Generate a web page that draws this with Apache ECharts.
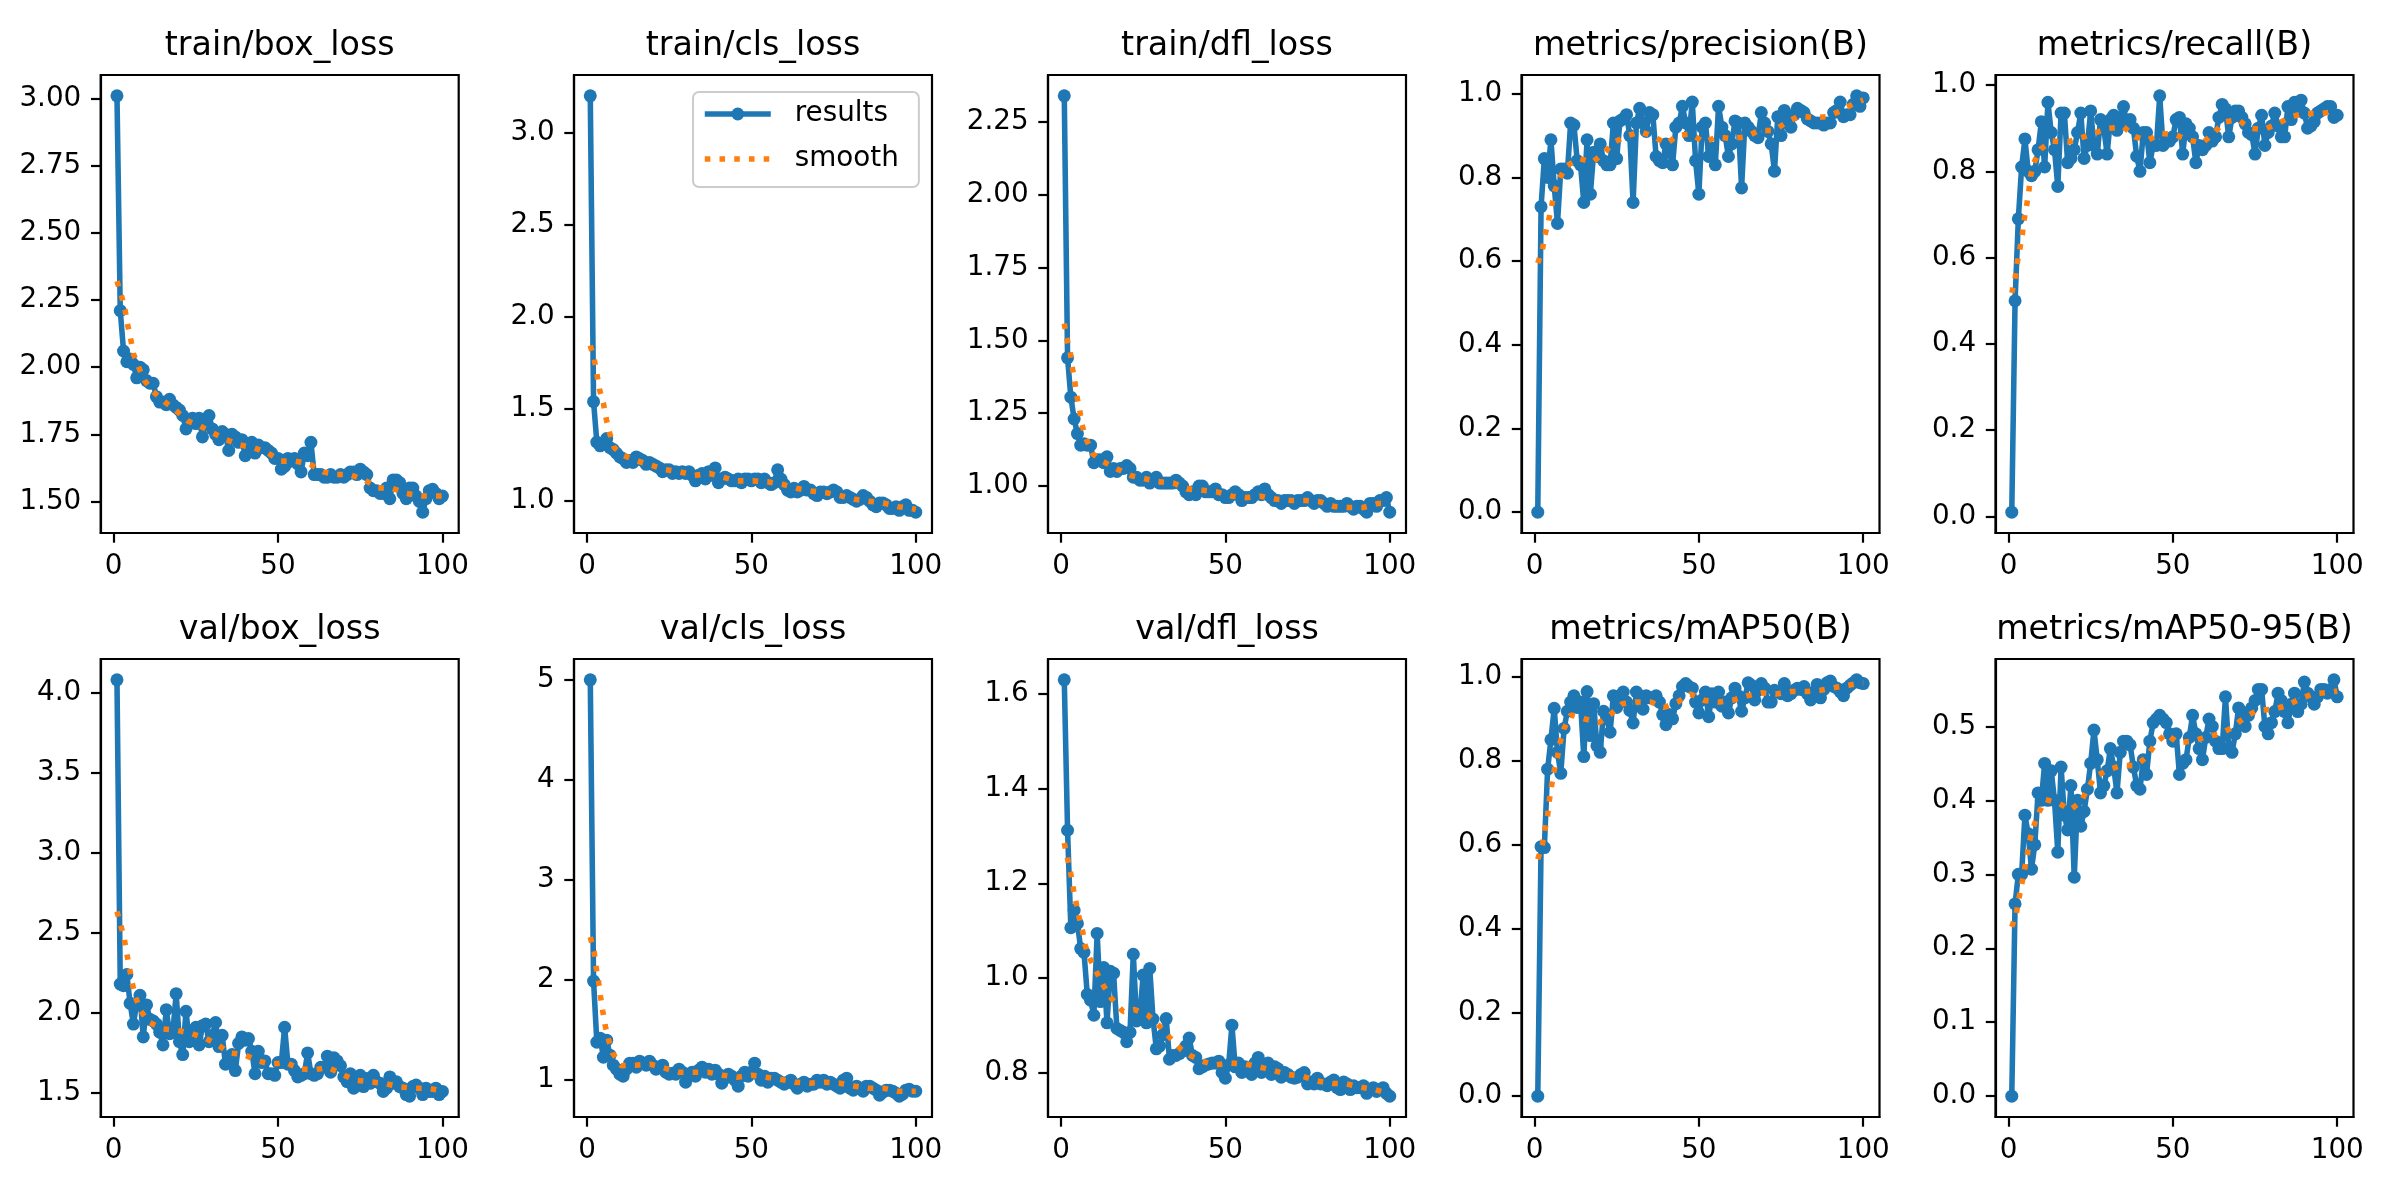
<!DOCTYPE html>
<html>
<head>
<meta charset="utf-8">
<script src="https://cdn.jsdelivr.net/npm/echarts@6/dist/echarts.min.js"></script>
<style>html,body{margin:0;padding:0;background:#fff;}#c{width:2400px;height:1200px;}</style>
</head>
<body>
<div id="c"></div>
<script>
// ---------------- DATA ----------------
const epochs = [1,2,3,4,5,6,7,8,9,10,11,12,13,14,15,16,17,18,19,20,21,22,23,24,25,26,27,28,29,30,31,32,33,34,35,36,37,38,39,40,41,42,43,44,45,46,47,48,49,50,51,52,53,54,55,56,57,58,59,60,61,62,63,64,65,66,67,68,69,70,71,72,73,74,75,76,77,78,79,80,81,82,83,84,85,86,87,88,89,90,91,92,93,94,95,96,97,98,99,100];
const xTicks = [0, 50, 100];

const titles = ['train/box_loss','train/cls_loss','train/dfl_loss','metrics/precision(B)','metrics/recall(B)',
                'val/box_loss','val/cls_loss','val/dfl_loss','metrics/mAP50(B)','metrics/mAP50-95(B)'];

const trainBoxLoss = [3.01,2.21,2.06,2.02,2.03,2.01,1.96,2.00,1.99,1.95,
1.94,1.94,1.89,1.87,1.87,1.86,1.88,1.86,1.85,1.84,
1.82,1.77,1.80,1.81,1.79,1.81,1.74,1.80,1.82,1.77,
1.75,1.73,1.76,1.75,1.69,1.75,1.74,1.72,1.73,1.67,
1.71,1.72,1.68,1.71,1.70,1.70,1.69,1.68,1.66,1.66,
1.62,1.63,1.66,1.65,1.66,1.64,1.61,1.68,1.67,1.72,
1.60,1.60,1.60,1.59,1.59,1.60,1.59,1.59,1.60,1.59,
1.60,1.61,1.61,1.60,1.62,1.61,1.60,1.55,1.54,1.54,
1.53,1.53,1.55,1.51,1.58,1.58,1.57,1.53,1.51,1.55,
1.55,1.52,1.50,1.46,1.51,1.54,1.545,1.53,1.51,1.52];
const trainBoxSmoothX = [1,2.5,3.5,4.2,5.1,6,7.6,9.4,11.9,15.6,18.8,22.5,26.4,30.2,34.2,38.5,42.6,46.9,50.9,55.2,59.6,63.7,67.7,71.8,76.3,80.4,84.5,89,93.6,97.7,100];
const trainBoxSmoothY = [2.32,2.26,2.21,2.16,2.11,2.05,2.00,1.95,1.91,1.87,1.84,1.80,1.78,1.755,1.73,1.71,1.70,1.68,1.65,1.65,1.64,1.61,1.60,1.60,1.58,1.55,1.55,1.53,1.52,1.52,1.52];
const trainBoxTicks = [1.50,1.75,2.00,2.25,2.50,2.75,3.00];

const trainClsLoss = [3.20,1.54,1.32,1.30,1.31,1.34,1.29,1.28,1.26,1.24,
1.23,1.21,1.22,1.21,1.24,1.23,1.22,1.20,1.21,1.20,
1.19,1.18,1.16,1.17,1.17,1.15,1.16,1.15,1.16,1.15,
1.16,1.14,1.11,1.14,1.15,1.12,1.16,1.14,1.18,1.10,
1.12,1.13,1.12,1.11,1.11,1.12,1.10,1.12,1.12,1.11,
1.12,1.12,1.10,1.12,1.10,1.09,1.10,1.17,1.12,1.09,
1.06,1.05,1.07,1.05,1.06,1.08,1.06,1.06,1.04,1.03,
1.05,1.05,1.04,1.05,1.06,1.05,1.02,1.02,1.03,1.02,
1.01,1.00,1.01,1.03,1.02,1.00,0.98,0.97,0.99,0.99,
0.98,0.96,0.96,0.97,0.95,0.97,0.98,0.95,0.95,0.94];
const trainClsSmoothX = [1,2.2,3,3.9,5,5.8,6.8,8.3,10.9,14.9,19.5,24,28,32.7,37.3,41.4,45.4,50.5,55,59.7,63.7,68.3,72.9,77,81.5,85.6,90.1,94.7,98.8,100];
const trainClsSmoothY = [1.845,1.77,1.69,1.60,1.53,1.45,1.375,1.29,1.25,1.22,1.195,1.17,1.16,1.14,1.15,1.13,1.11,1.11,1.105,1.09,1.07,1.055,1.045,1.03,1.01,1.00,0.99,0.97,0.96,0.955];
const trainClsTicks = [1.0,1.5,2.0,2.5,3.0];

const trainDflLoss = [2.34,1.44,1.305,1.23,1.18,1.14,1.145,1.14,1.14,1.08,
1.09,1.09,1.08,1.10,1.05,1.06,1.05,1.06,1.06,1.07,
1.06,1.03,1.03,1.02,1.02,1.03,1.01,1.02,1.03,1.01,
1.01,1.01,1.01,1.01,1.02,1.01,1.00,0.98,0.97,0.98,
0.97,1.00,1.00,0.98,0.98,0.98,0.99,0.97,0.97,0.96,
0.96,0.97,0.98,0.97,0.95,0.96,0.96,0.96,0.97,0.98,
0.97,0.99,0.97,0.96,0.95,0.95,0.94,0.95,0.95,0.95,
0.94,0.95,0.95,0.95,0.96,0.95,0.94,0.95,0.95,0.94,
0.93,0.94,0.93,0.93,0.93,0.93,0.94,0.93,0.92,0.93,
0.93,0.92,0.91,0.94,0.94,0.93,0.95,0.95,0.96,0.91];
const trainDflSmoothX = [1,1.7,2.8,3.4,4.2,4.8,5.7,6.4,7.7,9.7,12.6,16.8,21.4,25.5,29.6,34.2,38.3,43.2,47.4,52,56.4,60.7,65.3,69.9,74.5,78.6,83,87.4,91.8,96.4,100];
const trainDflSmoothY = [1.558,1.51,1.46,1.41,1.36,1.31,1.26,1.21,1.16,1.11,1.085,1.06,1.035,1.025,1.015,1.01,0.99,0.985,0.98,0.965,0.96,0.965,0.955,0.95,0.95,0.946,0.93,0.926,0.926,0.94,0.94];
const trainDflTicks = [1.00,1.25,1.50,1.75,2.00,2.25];

const precision = [0.0,0.73,0.845,0.80,0.89,0.78,0.69,0.82,0.82,0.81,
0.93,0.925,0.84,0.83,0.74,0.89,0.76,0.86,0.85,0.88,
0.84,0.83,0.83,0.93,0.845,0.935,0.94,0.95,0.90,0.74,
0.93,0.965,0.93,0.91,0.955,0.95,0.85,0.84,0.835,0.88,
0.86,0.83,0.92,0.93,0.97,0.93,0.90,0.98,0.84,0.76,
0.92,0.93,0.85,0.87,0.83,0.97,0.92,0.90,0.85,0.88,
0.935,0.93,0.775,0.93,0.92,0.91,0.90,0.895,0.955,0.93,
0.91,0.88,0.815,0.945,0.90,0.96,0.93,0.92,0.95,0.965,
0.96,0.955,0.94,0.935,0.93,0.93,0.93,0.925,0.93,0.93,
0.955,0.96,0.98,0.945,0.95,0.95,0.975,0.995,0.97,0.99];
const precisionSmoothX = [1,2.4,3.2,4.3,5.2,6.2,7.8,9.7,13.6,17.6,21.2,24.2,28.3,32.3,36.4,40.1,43.5,47.5,51.6,55.6,59.7,64.2,68.3,72.8,76.4,80.4,85,89,93.1,97.2,100];
const precisionSmoothY = [0.595,0.627,0.663,0.697,0.731,0.768,0.80,0.827,0.845,0.836,0.859,0.884,0.90,0.909,0.897,0.88,0.90,0.904,0.884,0.897,0.893,0.897,0.912,0.912,0.93,0.947,0.943,0.945,0.959,0.977,0.985];
const unitTicks = [0.0,0.2,0.4,0.6,0.8,1.0];

const recall = [0.01,0.50,0.69,0.81,0.875,0.80,0.79,0.80,0.85,0.915,
0.81,0.96,0.89,0.85,0.765,0.935,0.935,0.82,0.83,0.85,
0.89,0.935,0.83,0.86,0.94,0.86,0.84,0.92,0.90,0.84,
0.92,0.93,0.895,0.925,0.95,0.91,0.92,0.90,0.835,0.80,
0.89,0.89,0.82,0.86,0.86,0.975,0.86,0.87,0.87,0.88,
0.92,0.925,0.84,0.91,0.90,0.88,0.82,0.86,0.85,0.86,
0.89,0.87,0.88,0.925,0.955,0.945,0.88,0.925,0.94,0.94,
0.925,0.91,0.89,0.885,0.84,0.90,0.93,0.86,0.89,0.905,
0.935,0.905,0.88,0.88,0.95,0.92,0.96,0.94,0.965,0.935,
0.90,0.905,0.915,0.935,0.94,0.945,0.95,0.95,0.925,0.93];
const recallSmoothX = [1,2,2.6,3.4,4.2,4.7,5.5,6.2,6.7,7.7,9.8,13.3,18.1,22.2,26.6,30.6,35,38.5,42.3,46.4,50.7,54.8,59.1,62.5,65.5,69.8,73.3,77.7,81.8,86.1,90.1,94.7,99.1,100];
const recallSmoothY = [0.518,0.551,0.585,0.618,0.653,0.686,0.72,0.755,0.788,0.82,0.852,0.87,0.868,0.878,0.89,0.90,0.903,0.88,0.872,0.888,0.885,0.872,0.866,0.889,0.914,0.92,0.90,0.897,0.91,0.927,0.934,0.934,0.938,0.938];

const valBoxLoss = [4.08,2.18,2.17,2.24,2.06,1.93,2.06,2.11,1.85,2.05,
1.96,1.95,1.93,1.88,1.80,2.02,1.87,1.88,2.12,1.82,
1.74,2.01,1.82,1.87,1.91,1.80,1.92,1.93,1.82,1.86,
1.94,1.79,1.86,1.68,1.69,1.74,1.64,1.81,1.85,1.83,
1.84,1.76,1.62,1.76,1.69,1.70,1.62,1.62,1.61,1.69,
1.69,1.91,1.68,1.68,1.64,1.60,1.61,1.62,1.75,1.62,
1.61,1.62,1.66,1.66,1.73,1.63,1.72,1.70,1.67,1.60,
1.57,1.62,1.53,1.56,1.61,1.54,1.59,1.56,1.61,1.57,
1.56,1.51,1.53,1.60,1.56,1.57,1.54,1.53,1.49,1.48,
1.54,1.55,1.53,1.49,1.53,1.51,1.51,1.53,1.49,1.51];
const valBoxSmoothX = [1,2.2,3.2,4,4.8,5.6,6.6,8.3,10.9,14.9,19.5,23.9,28.1,31.7,35.2,39.6,43.9,47.9,52.5,56.5,61.1,65.2,69.2,73.3,77.9,82.4,86.5,91.1,95.6,99.4,100];
const valBoxSmoothY = [2.634,2.546,2.463,2.37,2.28,2.19,2.10,2.01,1.94,1.90,1.89,1.87,1.84,1.80,1.75,1.74,1.70,1.68,1.69,1.65,1.645,1.66,1.62,1.58,1.57,1.56,1.54,1.53,1.53,1.515,1.515];
const valBoxTicks = [1.5,2.0,2.5,3.0,3.5,4.0];

const valClsLoss = [5.0,1.99,1.38,1.42,1.23,1.40,1.25,1.15,1.11,1.06,
1.04,1.11,1.17,1.17,1.13,1.19,1.17,1.15,1.19,1.15,
1.11,1.13,1.15,1.08,1.06,1.07,1.06,1.11,1.08,0.98,
1.06,1.08,1.04,1.10,1.13,1.08,1.11,1.06,1.10,1.06,
0.97,1.02,1.06,1.04,1.00,0.94,1.04,1.08,1.04,1.08,
1.17,1.06,1.00,1.04,0.98,1.02,1.02,1.00,0.98,0.96,
0.98,1.00,0.96,0.92,0.96,0.98,0.94,0.96,0.96,1.00,
0.98,1.00,0.96,0.98,0.96,0.94,0.92,1.00,1.02,0.92,
0.90,0.94,0.92,0.89,0.94,0.94,0.92,0.90,0.85,0.88,
0.90,0.90,0.89,0.87,0.84,0.86,0.90,0.91,0.89,0.89];
const valClsSmoothX = [1,2.2,2.7,3.5,4.1,4.8,5.5,6.6,7.8,10.4,14.9,19.2,23.6,27.8,32.5,36.8,41.4,45.7,50,54.4,58.6,63.2,67.8,72.4,76.9,81.5,85.6,90.1,94.7,98.8,100];
const valClsSmoothY = [2.43,2.28,2.14,1.99,1.84,1.69,1.55,1.40,1.27,1.145,1.15,1.16,1.12,1.08,1.08,1.08,1.05,1.03,1.05,1.03,1.01,0.98,0.97,0.98,0.97,0.94,0.92,0.92,0.89,0.89,0.89];
const valClsTicks = [1,2,3,4,5];

const valDflLoss = [1.63,1.312,1.106,1.143,1.115,1.062,1.054,0.965,0.953,0.921,
1.094,0.95,1.022,0.905,1.014,1.01,0.893,0.889,0.885,0.865,
0.885,1.05,0.909,0.921,1.006,0.905,1.02,0.913,0.85,0.856,
0.88,0.914,0.828,0.836,0.836,0.84,0.845,0.856,0.873,0.836,
0.832,0.808,0.812,0.816,0.818,0.82,0.82,0.824,0.80,0.788,
0.816,0.90,0.812,0.82,0.80,0.812,0.808,0.796,0.82,0.832,
0.80,0.812,0.82,0.796,0.812,0.808,0.79,0.80,0.796,0.79,
0.788,0.79,0.796,0.80,0.776,0.78,0.776,0.788,0.776,0.776,
0.772,0.78,0.784,0.768,0.764,0.78,0.776,0.764,0.772,0.768,
0.768,0.772,0.756,0.764,0.768,0.76,0.764,0.768,0.756,0.75];
const valDflSmoothX = [1,2,3,3.8,4.6,5.4,6.6,7.3,8.7,10.7,12.8,15.3,18.9,22.4,26.5,30.1,33.2,36.7,39.3,42.9,46.9,51.5,56.1,60.2,64.8,68.9,73.5,78.1,82.7,86.7,91.3,95.4,99.5,100];
const valDflSmoothY = [1.285,1.252,1.219,1.187,1.159,1.131,1.098,1.07,1.042,1.014,0.985,0.957,0.929,0.933,0.921,0.897,0.873,0.848,0.836,0.824,0.816,0.82,0.818,0.812,0.804,0.796,0.792,0.782,0.777,0.776,0.769,0.764,0.756,0.755];
const valDflTicks = [0.8,1.0,1.2,1.4,1.6];

const mAP50 = [0.0,0.595,0.593,0.78,0.85,0.925,0.82,0.77,0.877,0.918,
0.94,0.955,0.927,0.94,0.81,0.965,0.86,0.936,0.836,0.82,
0.918,0.90,0.868,0.955,0.927,0.955,0.964,0.94,0.92,0.89,
0.964,0.955,0.923,0.955,0.95,0.95,0.955,0.94,0.91,0.886,
0.91,0.90,0.936,0.955,0.977,0.984,0.977,0.973,0.94,0.914,
0.945,0.964,0.905,0.96,0.94,0.964,0.93,0.94,0.914,0.95,
0.973,0.955,0.918,0.95,0.986,0.98,0.945,0.968,0.984,0.973,
0.94,0.94,0.968,0.964,0.96,0.984,0.955,0.96,0.968,0.973,
0.97,0.977,0.96,0.945,0.964,0.982,0.95,0.97,0.986,0.99,
0.977,0.973,0.965,0.955,0.973,0.98,0.986,0.993,0.986,0.984];
const mAP50SmoothX = [1,2.4,3.2,4,4.5,5.2,6,7,7.8,9,11,15.1,19.7,23.2,26.7,30.8,35.4,39.4,43.5,47.5,51.6,56.1,60.2,64.7,69.3,73.4,77.9,82.5,87,91.6,95.6,99.7,100];
const mAP50SmoothY = [0.565,0.60,0.636,0.67,0.705,0.741,0.777,0.809,0.844,0.877,0.909,0.90,0.891,0.911,0.936,0.94,0.94,0.927,0.94,0.959,0.944,0.94,0.944,0.955,0.962,0.959,0.965,0.965,0.968,0.975,0.98,0.986,0.986];

const mAP5095 = [0.0,0.26,0.30,0.30,0.38,0.355,0.307,0.34,0.41,0.40,
0.45,0.40,0.44,0.40,0.33,0.445,0.38,0.36,0.42,0.296,
0.40,0.365,0.385,0.415,0.45,0.495,0.455,0.41,0.42,0.44,
0.47,0.445,0.41,0.465,0.48,0.48,0.475,0.445,0.42,0.415,
0.455,0.435,0.48,0.505,0.51,0.515,0.51,0.505,0.49,0.48,
0.49,0.435,0.45,0.455,0.485,0.515,0.49,0.47,0.455,0.485,
0.51,0.50,0.48,0.47,0.47,0.54,0.47,0.465,0.49,0.525,
0.52,0.50,0.515,0.525,0.535,0.55,0.55,0.50,0.49,0.505,
0.52,0.545,0.535,0.52,0.505,0.53,0.545,0.52,0.53,0.56,
0.545,0.54,0.53,0.54,0.55,0.55,0.545,0.55,0.563,0.54];
const mAP5095SmoothX = [1,2.4,3.2,4,4.9,5.7,6.4,7.5,9.3,11.3,15.4,18.7,22,24,26.3,30.1,34.2,38.8,42.3,44.6,47.9,51.5,56.1,60.1,64.5,68.3,72,75.9,80.5,84.5,88.6,92.7,97.3,100];
const mAP5095SmoothY = [0.229,0.247,0.268,0.286,0.307,0.326,0.345,0.363,0.384,0.401,0.396,0.387,0.398,0.415,0.432,0.441,0.447,0.447,0.46,0.476,0.49,0.478,0.48,0.486,0.49,0.499,0.513,0.522,0.523,0.528,0.537,0.544,0.546,0.548];
const mAP5095Ticks = [0.0,0.1,0.2,0.3,0.4,0.5];

// ---------------- LAYOUT / STYLE ----------------
const panels = [
  {y: trainBoxLoss, sx: trainBoxSmoothX, sy: trainBoxSmoothY, ticks: trainBoxTicks, dec: 2},
  {y: trainClsLoss, sx: trainClsSmoothX, sy: trainClsSmoothY, ticks: trainClsTicks, dec: 1},
  {y: trainDflLoss, sx: trainDflSmoothX, sy: trainDflSmoothY, ticks: trainDflTicks, dec: 2},
  {y: precision, sx: precisionSmoothX, sy: precisionSmoothY, ticks: unitTicks, dec: 1},
  {y: recall, sx: recallSmoothX, sy: recallSmoothY, ticks: unitTicks, dec: 1},
  {y: valBoxLoss, sx: valBoxSmoothX, sy: valBoxSmoothY, ticks: valBoxTicks, dec: 1},
  {y: valClsLoss, sx: valClsSmoothX, sy: valClsSmoothY, ticks: valClsTicks, dec: 0},
  {y: valDflLoss, sx: valDflSmoothX, sy: valDflSmoothY, ticks: valDflTicks, dec: 1},
  {y: mAP50, sx: mAP50SmoothX, sy: mAP50SmoothY, ticks: unitTicks, dec: 1},
  {y: mAP5095, sx: mAP5095SmoothX, sy: mAP5095SmoothY, ticks: mAP5095Ticks, dec: 1}
];
const colLefts = [100.7, 574, 1048, 1521.5, 1995.5];
const rowTops = [75, 659];
const plotW = 358, plotH = 458;
const titleTops = [30, 614];
const FONT = 'DejaVu Sans';
const BLUE = '#1f77b4', ORANGE = '#ff7f0e';
const LW = 5.56;
const DOTS = [5.56, 9.17];

const grids = [], xAxes = [], yAxes = [], series = [], titleArr = [];
const xmin = epochs[0] - 0.05 * (epochs[epochs.length-1] - epochs[0]);
const xmax = epochs[epochs.length-1] + 0.05 * (epochs[epochs.length-1] - epochs[0]);

panels.forEach((p, i) => {
  const r = Math.floor(i / 5), c = i % 5;
  const left = colLefts[c], top = rowTops[r];
  grids.push({left: left, top: top, width: plotW, height: plotH, show: true,
    borderColor: '#000', borderWidth: 2.2, backgroundColor: '#fff', containLabel: false});
  titleArr.push({text: titles[i], left: left + plotW / 2, top: titleTops[r], textAlign: 'center', padding: 0,
    textStyle: {fontFamily: FONT, fontSize: 33.3, fontWeight: 'normal', color: '#000'}});
  const dmin = Math.min(...p.y), dmax = Math.max(...p.y);
  const m = 0.05 * (dmax - dmin);
  const axisCommon = {
    axisLine: {show: true, onZero: false, lineStyle: {color: '#000', width: 2.2}},
    splitLine: {show: false},
  };
  xAxes.push(Object.assign({gridIndex: i, type: 'value', min: xmin, max: xmax,
    axisTick: {show: true, length: 9.7, lineStyle: {color: '#000', width: 2.2}, customValues: xTicks},
    axisLabel: {customValues: xTicks, fontFamily: FONT, fontSize: 27.8, color: '#000', margin: 19.4,
      formatter: v => String(Math.round(v))}}, axisCommon));
  yAxes.push(Object.assign({gridIndex: i, type: 'value', min: dmin - m, max: dmax + m,
    axisTick: {show: true, length: 9.7, lineStyle: {color: '#000', width: 2.2}, customValues: p.ticks},
    axisLabel: {customValues: p.ticks, fontFamily: FONT, fontSize: 27.8, color: '#000', margin: 19.4,
      formatter: v => Number(v).toFixed(p.dec)}}, axisCommon));
  series.push({name: 'results', type: 'line', xAxisIndex: i, yAxisIndex: i,
    data: epochs.map((e, k) => [e, p.y[k]]),
    symbol: 'circle', symbolSize: 13, showAllSymbol: true,
    lineStyle: {color: BLUE, width: LW}, itemStyle: {color: BLUE}, z: 2, animation: false});
  series.push({name: 'smooth', type: 'line', xAxisIndex: i, yAxisIndex: i,
    data: p.sx.map((x, k) => [x, p.sy[k]]),
    symbol: 'none', smooth: false,
    lineStyle: {color: ORANGE, width: LW, type: DOTS, cap: 'butt'},
    itemStyle: {color: ORANGE, opacity: 0}, z: 3, animation: false});
});

const option = {
  backgroundColor: '#fff',
  animation: false,
  title: titleArr,
  grid: grids,
  xAxis: xAxes,
  yAxis: yAxes,
  legend: {
    data: [
      {name: 'results', lineStyle: {width: LW, color: BLUE, type: 'solid'}, itemStyle: {color: BLUE, opacity: 1}},
      {name: 'smooth', lineStyle: {width: LW, color: ORANGE, type: DOTS, cap: 'butt'}, itemStyle: {color: ORANGE, opacity: 0}}
    ],
    orient: 'vertical',
    left: 693, top: 92,
    padding: [7, 20, 13, 9],
    itemWidth: 66, itemHeight: 16, itemGap: 15,
    borderColor: '#cccccc', borderWidth: 2, borderRadius: 6,
    backgroundColor: 'rgba(255,255,255,0.8)',
    selectedMode: false,
    lineStyle: {width: LW},
    textStyle: {fontFamily: FONT, fontSize: 27.8, color: '#000', lineHeight: 30, padding: [0, 0, 0, 19]}
  },
  series: series
};

const chart = echarts.init(document.getElementById('c'), null, {renderer: 'canvas', width: 2400, height: 1200});
chart.setOption(option);
</script>
</body>
</html>
